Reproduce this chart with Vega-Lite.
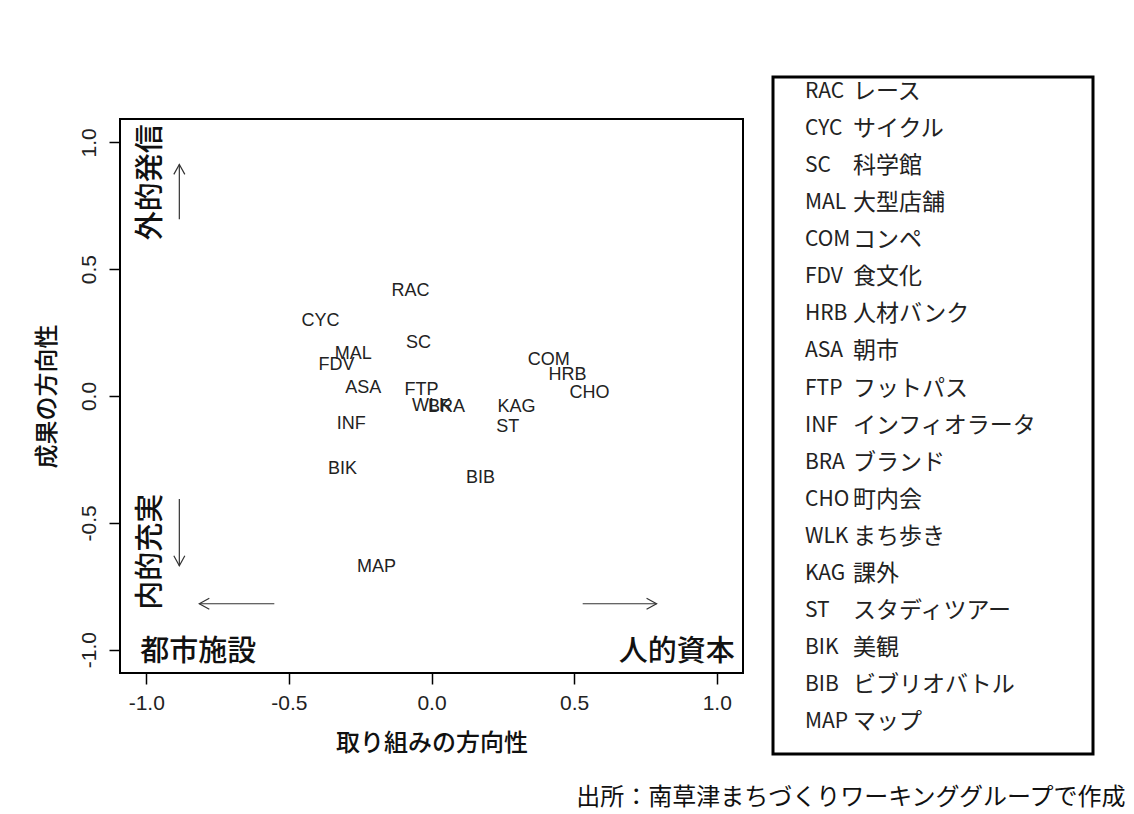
{
  "$schema": "https://vega.github.io/schema/vega-lite/v6.json",
  "padding": {"left": 34, "top": 75, "right": 0, "bottom": 4},
  "background": "white",
  "datasets": {
    "points": [
      {"code": "RAC", "x": -0.074, "y": 0.413},
      {"code": "CYC", "x": -0.389, "y": 0.295},
      {"code": "SC", "x": -0.046, "y": 0.209},
      {"code": "MAL", "x": -0.274, "y": 0.165},
      {"code": "FDV", "x": -0.333, "y": 0.122},
      {"code": "ASA", "x": -0.239, "y": 0.031},
      {"code": "FTP", "x": -0.035, "y": 0.025},
      {"code": "INF", "x": -0.281, "y": -0.11},
      {"code": "BIK", "x": -0.312, "y": -0.287},
      {"code": "MAP", "x": -0.193, "y": -0.673},
      {"code": "COM", "x": 0.411, "y": 0.142},
      {"code": "HRB", "x": 0.477, "y": 0.083},
      {"code": "CHO", "x": 0.554, "y": 0.012},
      {"code": "KAG", "x": 0.298, "y": -0.043},
      {"code": "ST", "x": 0.267, "y": -0.122},
      {"code": "BIB", "x": 0.172, "y": -0.323},
      {"code": "WLK", "x": 0.0, "y": -0.038},
      {"code": "BRA", "x": 0.053, "y": -0.043}
    ],
    "notes": [
      {"label": "外的発信", "x": -0.982, "y": 0.843, "angle": 270},
      {"label": "内的充実", "x": -0.982, "y": -0.614, "angle": 270},
      {"label": "都市施設", "x": -0.818, "y": -1.008, "angle": 0},
      {"label": "人的資本", "x": 0.86, "y": -1.008, "angle": 0}
    ],
    "arrows": [
      {"x": -0.884, "y": 0.697, "x2": -0.884, "y2": 0.913},
      {"x": -0.884, "y": -0.406, "x2": -0.884, "y2": -0.669},
      {"x": -0.551, "y": -0.819, "x2": -0.814, "y2": -0.819},
      {"x": 0.53, "y": -0.819, "x2": 0.789, "y2": -0.819}
    ],
    "heads": [
      {"x": -0.884, "y": 0.913, "angle": 270},
      {"x": -0.884, "y": -0.669, "angle": 90},
      {"x": -0.814, "y": -0.819, "angle": 180},
      {"x": 0.789, "y": -0.819, "angle": 0}
    ],
    "items": [
      {"code": "RAC", "name": "レース"},
      {"code": "CYC", "name": "サイクル"},
      {"code": "SC", "name": "科学館"},
      {"code": "MAL", "name": "大型店舗"},
      {"code": "COM", "name": "コンペ"},
      {"code": "FDV", "name": "食文化"},
      {"code": "HRB", "name": "人材バンク"},
      {"code": "ASA", "name": "朝市"},
      {"code": "FTP", "name": "フットパス"},
      {"code": "INF", "name": "インフィオラータ"},
      {"code": "BRA", "name": "ブランド"},
      {"code": "CHO", "name": "町内会"},
      {"code": "WLK", "name": "まち歩き"},
      {"code": "KAG", "name": "課外"},
      {"code": "ST", "name": "スタディツアー"},
      {"code": "BIK", "name": "美観"},
      {"code": "BIB", "name": "ビブリオバトル"},
      {"code": "MAP", "name": "マップ"}
    ]
  },
  "title": {
    "text": "出所：南草津まちづくりワーキンググループで作成",
    "orient": "bottom",
    "anchor": "end",
    "font": "Noto Sans CJK JP",
    "fontSize": 24,
    "fontWeight": "normal",
    "color": "#111",
    "offset": 30,
    "dx": 31
  },
  "config": {
    "concat": {"spacing": 27},
    "view": {"stroke": null}
  },
  "hconcat": [
    {
      "spacing": 0,
      "vconcat": [
        {
          "width": 10,
          "height": 41,
          "data": {"values": []},
          "mark": "text",
          "encoding": {}
        },
        {
          "width": 623,
          "height": 554,
          "view": {"stroke": "black", "strokeWidth": 2},
          "layer": [
            {
              "data": {"name": "points"},
              "mark": {"type": "text", "font": "Liberation Sans", "fontSize": 18, "color": "#222", "align": "center", "baseline": "middle"},
              "encoding": {
                "x": {
                  "field": "x", "type": "quantitative", "title": "取り組みの方向性",
                  "scale": {"domain": [-1.092, 1.092], "nice": false, "zero": false},
                  "axis": {
                    "values": [-1, -0.5, 0, 0.5, 1],
                    "labelExpr": "(datum.value < 0 ? '-' : '') + format(abs(datum.value), '.1f')",
                    "domain": false, "grid": false,
                    "tickSize": 11, "tickColor": "black", "tickWidth": 1.5,
                    "labelFont": "Liberation Sans", "labelFontSize": 21, "labelColor": "#222", "labelPadding": 8,
                    "labelFlush": false,
                    "titleFont": "Noto Sans CJK JP", "titleFontSize": 24, "titleFontWeight": 500, "titleColor": "#111", "titlePadding": 18
                  }
                },
                "y": {
                  "field": "y", "type": "quantitative", "title": "成果の方向性",
                  "scale": {"domain": [-1.092, 1.092], "nice": false, "zero": false},
                  "axis": {
                    "values": [-1, -0.5, 0, 0.5, 1],
                    "labelExpr": "(datum.value < 0 ? '-' : '') + format(abs(datum.value), '.1f')",
                    "domain": false, "grid": false,
                    "tickSize": 11, "tickColor": "black", "tickWidth": 1.5,
                    "labelAngle": 270,
                    "labelFont": "Liberation Sans", "labelFontSize": 21, "labelColor": "#222", "labelPadding": 10,
                    "labelFlush": false,
                    "titleFont": "Noto Sans CJK JP", "titleFontSize": 24, "titleFontWeight": 500, "titleColor": "#111", "titlePadding": 19
                  }
                },
                "text": {"field": "code"}
              }
            },
            {
              "mark": {"type": "rule", "color": "black", "strokeWidth": 2},
              "encoding": {
                "y": {"datum": 0, "type": "quantitative", "title": "成果の方向性", "scale": {"domain": [-1.092, 1.092], "nice": false, "zero": false}}
              }
            },
            {
              "mark": {"type": "rule", "color": "black", "strokeWidth": 2},
              "encoding": {
                "x": {"datum": 0, "type": "quantitative", "title": "取り組みの方向性", "scale": {"domain": [-1.092, 1.092], "nice": false, "zero": false}}
              }
            },
            {
              "data": {"name": "notes"},
              "mark": {"type": "text", "font": "Noto Sans CJK JP", "fontSize": 29, "fontWeight": 500, "color": "#111", "align": "center", "baseline": "middle"},
              "encoding": {
                "x": {"field": "x", "type": "quantitative", "title": "取り組みの方向性", "scale": {"domain": [-1.092, 1.092], "nice": false, "zero": false}},
                "y": {"field": "y", "type": "quantitative", "title": "成果の方向性", "scale": {"domain": [-1.092, 1.092], "nice": false, "zero": false}},
                "angle": {"field": "angle", "type": "quantitative", "scale": null},
                "text": {"field": "label"}
              }
            },
            {
              "data": {"name": "arrows"},
              "mark": {"type": "rule", "color": "#333", "strokeWidth": 1.2},
              "encoding": {
                "x": {"field": "x", "type": "quantitative", "title": "取り組みの方向性", "scale": {"domain": [-1.092, 1.092], "nice": false, "zero": false}},
                "y": {"field": "y", "type": "quantitative", "title": "成果の方向性", "scale": {"domain": [-1.092, 1.092], "nice": false, "zero": false}},
                "x2": {"field": "x2"},
                "y2": {"field": "y2"}
              }
            },
            {
              "data": {"name": "heads"},
              "mark": {"type": "point", "shape": "M -1 -0.55 L 0 0 L -1 0.55", "filled": false, "color": "#333", "strokeWidth": 1.2, "size": 400, "opacity": 1},
              "encoding": {
                "x": {"field": "x", "type": "quantitative", "title": "取り組みの方向性", "scale": {"domain": [-1.092, 1.092], "nice": false, "zero": false}},
                "y": {"field": "y", "type": "quantitative", "title": "成果の方向性", "scale": {"domain": [-1.092, 1.092], "nice": false, "zero": false}},
                "angle": {"field": "angle", "type": "quantitative", "scale": null}
              }
            }
          ]
        }
      ]
    },
    {
      "width": 320,
      "height": 677,
      "view": {"stroke": "black", "strokeWidth": 3},
      "data": {"name": "items"},
      "layer": [
        {
          "mark": {"type": "text", "font": "Noto Sans CJK JP", "fontSize": 21, "color": "#222", "align": "left", "baseline": "middle"},
          "encoding": {
            "x": {"datum": "c", "type": "nominal", "scale": {"type": "point", "padding": 0, "domain": ["c", "n"], "range": [32, 80]}, "axis": null},
            "y": {"field": "code", "type": "nominal", "sort": null, "scale": {"type": "point", "padding": 0.635, "align": 0.32}, "axis": null},
            "text": {"field": "code"}
          }
        },
        {
          "mark": {"type": "text", "font": "Noto Sans CJK JP", "fontSize": 23, "color": "#222", "align": "left", "baseline": "middle"},
          "encoding": {
            "x": {"datum": "n", "type": "nominal", "scale": {"type": "point", "padding": 0, "domain": ["c", "n"], "range": [32, 80]}, "axis": null},
            "y": {"field": "code", "type": "nominal", "sort": null, "scale": {"type": "point", "padding": 0.635, "align": 0.32}, "axis": null},
            "text": {"field": "name"}
          }
        }
      ]
    }
  ]
}
